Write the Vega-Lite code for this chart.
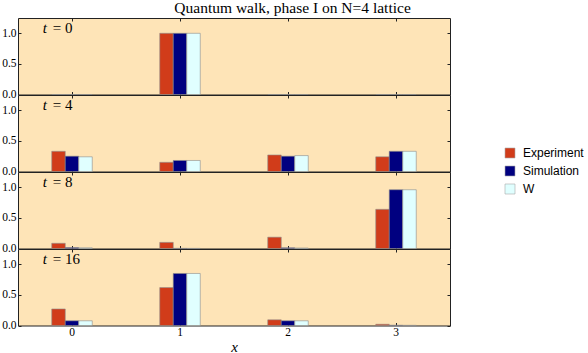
{
  "$schema": "https://vega.github.io/schema/vega-lite/v6.json",
  "padding": {"left": 1, "top": 0, "right": 2, "bottom": 0},
  "bounds": "flush",
  "title": {"text": "Quantum walk, phase I on N=4 lattice", "font": "Liberation Serif", "fontSize": 15.5, "fontWeight": "normal", "color": "#000", "anchor": "middle", "offset": 1},
  "datasets": {
    "walk": [
      {"t": 0, "x": "0", "series": "Experiment", "value": 0},
      {"t": 0, "x": "0", "series": "Simulation", "value": 0},
      {"t": 0, "x": "0", "series": "W", "value": 0},
      {"t": 0, "x": "1", "series": "Experiment", "value": 1.0},
      {"t": 0, "x": "1", "series": "Simulation", "value": 1.0},
      {"t": 0, "x": "1", "series": "W", "value": 1.0},
      {"t": 0, "x": "2", "series": "Experiment", "value": 0},
      {"t": 0, "x": "2", "series": "Simulation", "value": 0},
      {"t": 0, "x": "2", "series": "W", "value": 0},
      {"t": 0, "x": "3", "series": "Experiment", "value": 0},
      {"t": 0, "x": "3", "series": "Simulation", "value": 0},
      {"t": 0, "x": "3", "series": "W", "value": 0},
      {"t": 4, "x": "0", "series": "Experiment", "value": 0.33},
      {"t": 4, "x": "0", "series": "Simulation", "value": 0.25},
      {"t": 4, "x": "0", "series": "W", "value": 0.24},
      {"t": 4, "x": "1", "series": "Experiment", "value": 0.15},
      {"t": 4, "x": "1", "series": "Simulation", "value": 0.18},
      {"t": 4, "x": "1", "series": "W", "value": 0.18},
      {"t": 4, "x": "2", "series": "Experiment", "value": 0.27},
      {"t": 4, "x": "2", "series": "Simulation", "value": 0.25},
      {"t": 4, "x": "2", "series": "W", "value": 0.26},
      {"t": 4, "x": "3", "series": "Experiment", "value": 0.24},
      {"t": 4, "x": "3", "series": "Simulation", "value": 0.33},
      {"t": 4, "x": "3", "series": "W", "value": 0.33},
      {"t": 8, "x": "0", "series": "Experiment", "value": 0.085},
      {"t": 8, "x": "0", "series": "Simulation", "value": 0.015},
      {"t": 8, "x": "0", "series": "W", "value": 0.012},
      {"t": 8, "x": "1", "series": "Experiment", "value": 0.1},
      {"t": 8, "x": "1", "series": "Simulation", "value": 0.003},
      {"t": 8, "x": "1", "series": "W", "value": 0.002},
      {"t": 8, "x": "2", "series": "Experiment", "value": 0.185},
      {"t": 8, "x": "2", "series": "Simulation", "value": 0.012},
      {"t": 8, "x": "2", "series": "W", "value": 0.008},
      {"t": 8, "x": "3", "series": "Experiment", "value": 0.64},
      {"t": 8, "x": "3", "series": "Simulation", "value": 0.96},
      {"t": 8, "x": "3", "series": "W", "value": 0.96},
      {"t": 16, "x": "0", "series": "Experiment", "value": 0.27},
      {"t": 16, "x": "0", "series": "Simulation", "value": 0.077},
      {"t": 16, "x": "0", "series": "W", "value": 0.077},
      {"t": 16, "x": "1", "series": "Experiment", "value": 0.62},
      {"t": 16, "x": "1", "series": "Simulation", "value": 0.85},
      {"t": 16, "x": "1", "series": "W", "value": 0.85},
      {"t": 16, "x": "2", "series": "Experiment", "value": 0.093},
      {"t": 16, "x": "2", "series": "Simulation", "value": 0.077},
      {"t": 16, "x": "2", "series": "W", "value": 0.077},
      {"t": 16, "x": "3", "series": "Experiment", "value": 0.02},
      {"t": 16, "x": "3", "series": "Simulation", "value": 0.005},
      {"t": 16, "x": "3", "series": "W", "value": 0.003}
    ],
    "labels": [
      {"t": 0, "name": "t", "eq": "= 0"},
      {"t": 4, "name": "t", "eq": "= 4"},
      {"t": 8, "name": "t", "eq": "= 8"},
      {"t": 16, "name": "t", "eq": "= 16"}
    ]
  },
  "vconcat": [
    {
      "width": 432, "height": 76.5,
      "layer": [
        {"data": {"name": "walk"}, "transform": [{"filter": "datum.t == 0"}],
         "mark": {"type": "bar", "stroke": "#8c8c8c", "strokeWidth": 0.6},
         "encoding": {
           "x": {"field": "x", "type": "nominal", "scale": {"domain": ["0","1","2","3"], "paddingInner": 0.625, "paddingOuter": 0.3125}, "axis": {"orient": "bottom", "labels": false, "tickSize": -3, "title": null}},
           "xOffset": {"field": "series", "type": "nominal", "sort": ["Experiment","Simulation","W"], "scale": {"paddingInner": 0, "paddingOuter": 0}},
           "y": {"field": "value", "type": "quantitative", "scale": {"domain": [0, 1.25], "nice": false}, "axis": {"values": [0, 0.5, 1], "format": ".1f", "tickSize": -3, "labelPadding": 5, "title": null}},
           "color": {"field": "series", "type": "nominal", "scale": {"domain": ["Experiment","Simulation","W"], "range": ["#d13c1a","#000080","#e0ffff"]}, "legend": {"title": null, "orient": "none", "legendX": 486, "legendY": 129, "symbolType": "square", "symbolSize": 100, "symbolStrokeColor": "#aaaaaa", "symbolStrokeWidth": 0.6, "labelFont": "Liberation Sans", "labelFontSize": 12, "labelColor": "#000", "rowPadding": 4, "labelOffset": 7}}
         }},
        {"data": {"name": "labels"}, "transform": [{"filter": "datum.t == 0"}],
         "mark": {"type": "text", "font": "Liberation Serif", "fontStyle": "italic", "fontSize": 15, "align": "left", "baseline": "alphabetic", "dx": -9, "color": "#000"},
         "encoding": {
           "x": {"datum": "0", "bandPosition": 0, "axis": {"orient": "top", "labels": false, "tickSize": -3, "title": null}},
           "y": {"datum": 1.0, "axis": {"orient": "right", "labels": false, "tickSize": -3, "values": [0, 0.5, 1], "title": null}},
           "text": {"field": "name"}
         }},
        {"data": {"name": "labels"}, "transform": [{"filter": "datum.t == 0"}],
         "mark": {"type": "text", "font": "Liberation Serif", "fontSize": 15, "align": "left", "baseline": "alphabetic", "dx": 1, "color": "#000"},
         "encoding": {
           "x": {"datum": "0", "bandPosition": 0, "axis": null},
           "y": {"datum": 1.0, "axis": null},
           "text": {"field": "eq"}
         }}
      ],
      "resolve": {"axis": {"x": "independent", "y": "independent"}}
    },
    {
      "width": 432, "height": 76.5,
      "layer": [
        {"data": {"name": "walk"}, "transform": [{"filter": "datum.t == 4"}],
         "mark": {"type": "bar", "stroke": "#8c8c8c", "strokeWidth": 0.6},
         "encoding": {
           "x": {"field": "x", "type": "nominal", "scale": {"domain": ["0","1","2","3"], "paddingInner": 0.625, "paddingOuter": 0.3125}, "axis": {"orient": "bottom", "labels": false, "tickSize": -3, "title": null}},
           "xOffset": {"field": "series", "type": "nominal", "sort": ["Experiment","Simulation","W"], "scale": {"paddingInner": 0, "paddingOuter": 0}},
           "y": {"field": "value", "type": "quantitative", "scale": {"domain": [0, 1.25], "nice": false}, "axis": {"values": [0, 0.5, 1], "format": ".1f", "tickSize": -3, "labelPadding": 5, "title": null}},
           "color": {"field": "series", "type": "nominal", "scale": {"domain": ["Experiment","Simulation","W"], "range": ["#d13c1a","#000080","#e0ffff"]}, "legend": null}
         }},
        {"data": {"name": "labels"}, "transform": [{"filter": "datum.t == 4"}],
         "mark": {"type": "text", "font": "Liberation Serif", "fontStyle": "italic", "fontSize": 15, "align": "left", "baseline": "alphabetic", "dx": -9, "color": "#000"},
         "encoding": {
           "x": {"datum": "0", "bandPosition": 0, "axis": {"orient": "top", "labels": false, "tickSize": -3, "title": null}},
           "y": {"datum": 1.0, "axis": {"orient": "right", "labels": false, "tickSize": -3, "values": [0, 0.5, 1], "title": null}},
           "text": {"field": "name"}
         }},
        {"data": {"name": "labels"}, "transform": [{"filter": "datum.t == 4"}],
         "mark": {"type": "text", "font": "Liberation Serif", "fontSize": 15, "align": "left", "baseline": "alphabetic", "dx": 1, "color": "#000"},
         "encoding": {
           "x": {"datum": "0", "bandPosition": 0, "axis": null},
           "y": {"datum": 1.0, "axis": null},
           "text": {"field": "eq"}
         }}
      ],
      "resolve": {"axis": {"x": "independent", "y": "independent"}}
    },
    {
      "width": 432, "height": 76.5,
      "layer": [
        {"data": {"name": "walk"}, "transform": [{"filter": "datum.t == 8"}],
         "mark": {"type": "bar", "stroke": "#8c8c8c", "strokeWidth": 0.6},
         "encoding": {
           "x": {"field": "x", "type": "nominal", "scale": {"domain": ["0","1","2","3"], "paddingInner": 0.625, "paddingOuter": 0.3125}, "axis": {"orient": "bottom", "labels": false, "tickSize": -3, "title": null}},
           "xOffset": {"field": "series", "type": "nominal", "sort": ["Experiment","Simulation","W"], "scale": {"paddingInner": 0, "paddingOuter": 0}},
           "y": {"field": "value", "type": "quantitative", "scale": {"domain": [0, 1.25], "nice": false}, "axis": {"values": [0, 0.5, 1], "format": ".1f", "tickSize": -3, "labelPadding": 5, "title": null}},
           "color": {"field": "series", "type": "nominal", "scale": {"domain": ["Experiment","Simulation","W"], "range": ["#d13c1a","#000080","#e0ffff"]}, "legend": null}
         }},
        {"data": {"name": "labels"}, "transform": [{"filter": "datum.t == 8"}],
         "mark": {"type": "text", "font": "Liberation Serif", "fontStyle": "italic", "fontSize": 15, "align": "left", "baseline": "alphabetic", "dx": -9, "color": "#000"},
         "encoding": {
           "x": {"datum": "0", "bandPosition": 0, "axis": {"orient": "top", "labels": false, "tickSize": -3, "title": null}},
           "y": {"datum": 1.0, "axis": {"orient": "right", "labels": false, "tickSize": -3, "values": [0, 0.5, 1], "title": null}},
           "text": {"field": "name"}
         }},
        {"data": {"name": "labels"}, "transform": [{"filter": "datum.t == 8"}],
         "mark": {"type": "text", "font": "Liberation Serif", "fontSize": 15, "align": "left", "baseline": "alphabetic", "dx": 1, "color": "#000"},
         "encoding": {
           "x": {"datum": "0", "bandPosition": 0, "axis": null},
           "y": {"datum": 1.0, "axis": null},
           "text": {"field": "eq"}
         }}
      ],
      "resolve": {"axis": {"x": "independent", "y": "independent"}}
    },
    {
      "width": 432, "height": 76.5,
      "layer": [
        {"data": {"name": "walk"}, "transform": [{"filter": "datum.t == 16"}],
         "mark": {"type": "bar", "stroke": "#8c8c8c", "strokeWidth": 0.6},
         "encoding": {
           "x": {"field": "x", "type": "nominal", "scale": {"domain": ["0","1","2","3"], "paddingInner": 0.625, "paddingOuter": 0.3125}, "axis": {"orient": "bottom", "labels": true, "labelAngle": 0, "tickSize": -3, "labelPadding": 4, "title": "x", "titleFont": "Liberation Serif", "titleFontStyle": "italic", "titleFontWeight": "normal", "titleFontSize": 15, "titlePadding": 1, "titleColor": "#000"}},
           "xOffset": {"field": "series", "type": "nominal", "sort": ["Experiment","Simulation","W"], "scale": {"paddingInner": 0, "paddingOuter": 0}},
           "y": {"field": "value", "type": "quantitative", "scale": {"domain": [0, 1.25], "nice": false}, "axis": {"values": [0, 0.5, 1], "format": ".1f", "tickSize": -3, "labelPadding": 5, "title": null}},
           "color": {"field": "series", "type": "nominal", "scale": {"domain": ["Experiment","Simulation","W"], "range": ["#d13c1a","#000080","#e0ffff"]}, "legend": null}
         }},
        {"data": {"name": "labels"}, "transform": [{"filter": "datum.t == 16"}],
         "mark": {"type": "text", "font": "Liberation Serif", "fontStyle": "italic", "fontSize": 15, "align": "left", "baseline": "alphabetic", "dx": -9, "color": "#000"},
         "encoding": {
           "x": {"datum": "0", "bandPosition": 0, "axis": {"orient": "top", "labels": false, "tickSize": -3, "title": null}},
           "y": {"datum": 1.0, "axis": {"orient": "right", "labels": false, "tickSize": -3, "values": [0, 0.5, 1], "title": null}},
           "text": {"field": "name"}
         }},
        {"data": {"name": "labels"}, "transform": [{"filter": "datum.t == 16"}],
         "mark": {"type": "text", "font": "Liberation Serif", "fontSize": 15, "align": "left", "baseline": "alphabetic", "dx": 1, "color": "#000"},
         "encoding": {
           "x": {"datum": "0", "bandPosition": 0, "axis": null},
           "y": {"datum": 1.0, "axis": null},
           "text": {"field": "eq"}
         }}
      ],
      "resolve": {"axis": {"x": "independent", "y": "independent"}}
    }
  ],
  "spacing": 0,
  "config": {
    "font": "Liberation Serif",
    "view": {"stroke": "#222222", "strokeWidth": 1, "fill": "#fee4b7"},
    "axis": {"grid": false, "domain": false, "tickColor": "#222222", "tickWidth": 1, "labelFont": "Liberation Serif", "labelFontSize": 11.5, "labelColor": "#000000"}
  }
}
